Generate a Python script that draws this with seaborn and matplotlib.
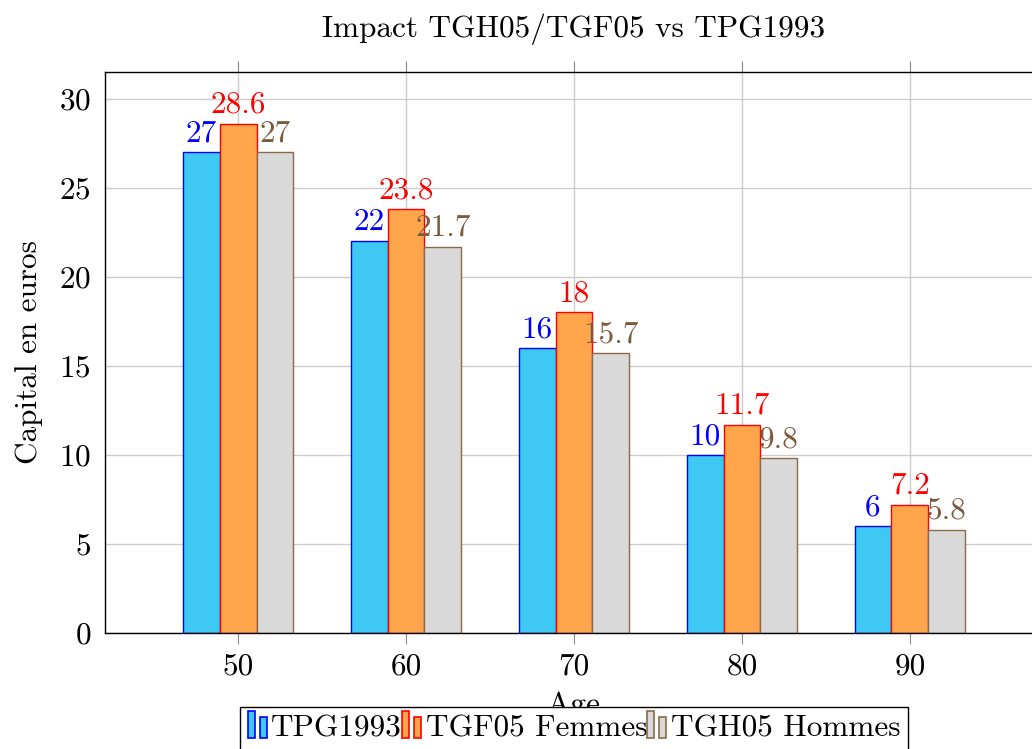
import numpy as np
import pandas as pd
import matplotlib
matplotlib.use("Agg")
import matplotlib.pyplot as plt
from matplotlib.patches import Patch, Rectangle
from matplotlib.legend_handler import HandlerBase
import seaborn as sns

# data
ages = [50, 60, 70, 80, 90]
series = ["TPG1993", "TGF05 Femmes", "TGH05 Hommes"]
tpg1993 = [27, 22, 16, 10, 6]
tgf05 = [28.6, 23.8, 18, 11.7, 7.2]
tgh05 = [27, 21.7, 15.7, 9.8, 5.8]

fills = ["#40C8F4", "#FFA64D", "#D9D9D9"]
edges = ["#0000FF", "#FF0000", "#8C6A48"]
label_cols = ["#0000FF", "#FF0000", "#7A5A3A"]

df = pd.DataFrame({
    "age": ages * 3,
    "serie": [s for s in series for _ in ages],
    "val": tpg1993 + tgf05 + tgh05,
})

sns.set_theme(style="whitegrid")
plt.rcParams["font.family"] = ["cmr10", "DejaVu Serif"]
plt.rcParams["axes.unicode_minus"] = False
plt.rcParams["axes.formatter.use_mathtext"] = True
for k in ["text.color", "axes.labelcolor", "xtick.labelcolor", "ytick.labelcolor"]:
    plt.rcParams[k] = "black"
fs = 22.5


class TwoBars(HandlerBase):
    # pgfplots style ybar legend image: two little bars
    def create_artists(self, legend, orig_handle, xdescent, ydescent,
                       width, height, fontsize, trans):
        fc = orig_handle.get_facecolor()
        ec = orig_handle.get_edgecolor()
        w = width * 0.36
        x0 = -xdescent
        y0 = -ydescent - height * 0.05
        r1 = Rectangle((x0, y0), w, height * 1.25, facecolor=fc, edgecolor=ec, lw=1.2, transform=trans)
        r2 = Rectangle((x0 + width * 0.64, y0), w, height * 0.95, facecolor=fc, edgecolor=ec, lw=1.2, transform=trans)
        return [r1, r2]


fig = plt.figure(figsize=(10.32, 7.49), dpi=100)
ax = fig.add_axes([105 / 1032, 1 - 633 / 749, 938 / 1032, 561 / 749])

sns.barplot(data=df, x="age", y="val", hue="serie", hue_order=series,
            palette=fills, width=0.66, errorbar=None, legend=False,
            saturation=1, ax=ax, zorder=2)

for i, cont in enumerate(ax.containers):
    for bar in cont:
        bar.set_edgecolor(edges[i])
        bar.set_linewidth(1.0)
    ax.bar_label(cont, labels=[f"{v:g}" for v in cont.datavalues],
                 padding=3.5, color=label_cols[i], fontsize=fs, zorder=3)

ax.set_xlim(-0.792, 4.792)
ax.set_ylim(0, 31.5)
ax.set_yticks([0, 5, 10, 15, 20, 25, 30])
ax.set_axisbelow(True)
ax.grid(True, color="#CCCCCC", linewidth=1.0)
ax.set_facecolor("white")
for sp in ax.spines.values():
    sp.set_color("black")
    sp.set_linewidth(1.0)

ax.tick_params(axis="x", direction="out", length=8, width=0.8, color="#888888",
               top=True, bottom=True, labelsize=fs, pad=6, labelcolor="black")
ax.tick_params(axis="y", direction="in", length=0, labelsize=fs, pad=10, labelcolor="black")

ax.set_xlabel("Age", fontsize=fs, color="black")
ax.xaxis.set_label_coords(0.5, -0.103)
ax.set_ylabel("Capital en euros", fontsize=fs, color="black")
ax.yaxis.set_label_coords(-0.066, 0.5)

fig.text(574 / 1032, 1 - 37 / 749, "Impact TGH05/TGF05 vs TPG1993",
         ha="center", va="baseline", fontsize=fs, color="black")

handles = [Patch(facecolor=fills[i], edgecolor=edges[i]) for i in range(3)]
leg = ax.legend(handles, series, loc="upper center",
                bbox_to_anchor=(574 / 1032, 1 - 707 / 749),
                bbox_transform=fig.transFigure, ncol=3, fontsize=fs,
                handler_map={Patch: TwoBars()}, handlelength=0.6,
                handleheight=0.7, handletextpad=0.15, columnspacing=0.0,
                borderpad=0.25, borderaxespad=0, frameon=True, fancybox=False,
                framealpha=1, edgecolor="black", labelcolor="black")
leg.get_frame().set_linewidth(1.0)
leg.set_zorder(10)

fig.savefig("out.png", dpi=100, facecolor="white")
